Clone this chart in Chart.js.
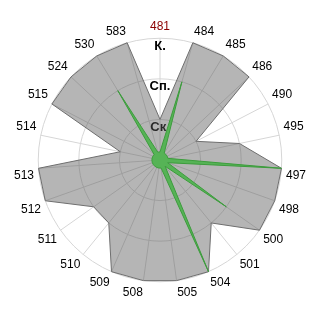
<!DOCTYPE html>
<html>
<head>
<meta charset="utf-8">
<script src="https://cdn.jsdelivr.net/npm/chart.js@4"></script>
<style>
  html, body { margin: 0; padding: 0; background: #fff; }
  #wrap { width: 320px; height: 320px; }
</style>
</head>
<body>
<div id="wrap"><canvas id="radar"></canvas></div>
<script>
// categories around the wheel (clockwise from top)
const categories = ['481', '484', '485', '486', '490', '495', '497', '498', '500', '501', '504', '505',
                    '508', '509', '510', '511', '512', '513', '514', '515', '524', '530', '583'];
// grey area
const greyValues = [1, 3, 3, 3, 1, 2, 3, 3, 3, 2, 3, 3, 3, 3, 2, 2, 3, 3, 1, 3, 3, 3, 3];
// green star
const greenValues = [0.2, 2, 0.2, 0.2, 0.2, 0.2, 3, 0.2, 2, 0.2, 3, 0.2,
                     0.2, 0.2, 0.2, 0.2, 0.2, 0.2, 0.2, 0.2, 0.2, 2, 0.2];
// ring labels, value 1..3
const levelLabels = ['', 'Ск.', 'Сп.', 'К.'];

document.addEventListener('DOMContentLoaded', function() {
    const canvas = document.getElementById('radar');

    new Chart(canvas, {
        type: 'radar',
        data: {
            labels: categories,
            datasets: [{
                data: greenValues,
                backgroundColor: '#56b356',
                borderColor: '#3c9c3c',
                borderWidth: 1,
                pointRadius: 0,
                fill: true
            }, {
                data: greyValues,
                backgroundColor: 'rgba(90,90,90,0.45)',
                borderColor: '#6e6e6e',
                borderWidth: 1,
                pointRadius: 0,
                fill: true
            }]
        },
        options: {
            responsive: true,
            maintainAspectRatio: false,
            animation: false,
            layout: { padding: 14 },
            plugins: {
                legend: { display: false },
                tooltip: { enabled: false }
            },
            scales: {
                r: {
                    min: 0,
                    max: 3,
                    grid: { circular: true, color: '#d6d6d6' },
                    angleLines: { color: '#d6d6d6' },
                    ticks: {
                        stepSize: 1,
                        showLabelBackdrop: false,
                        backdropPadding: 0,
                        color: '#000',
                        font: { family: 'Arial, "Liberation Sans"', size: 13, weight: 'bold', lineHeight: 0.6 },
                        // push the text a little inside its ring
                        callback: function(value) {
                            return ['', levelLabels[value] || ''];
                        }
                    },
                    pointLabels: {
                        padding: -2,
                        color: function(ctx) {
                            return ctx.index === 0 ? '#8b0000' : '#000';
                        },
                        font: { family: 'Arial, "Liberation Sans"', size: 12 }
                    }
                }
            }
        }
    });
});
</script>
</body>
</html>
